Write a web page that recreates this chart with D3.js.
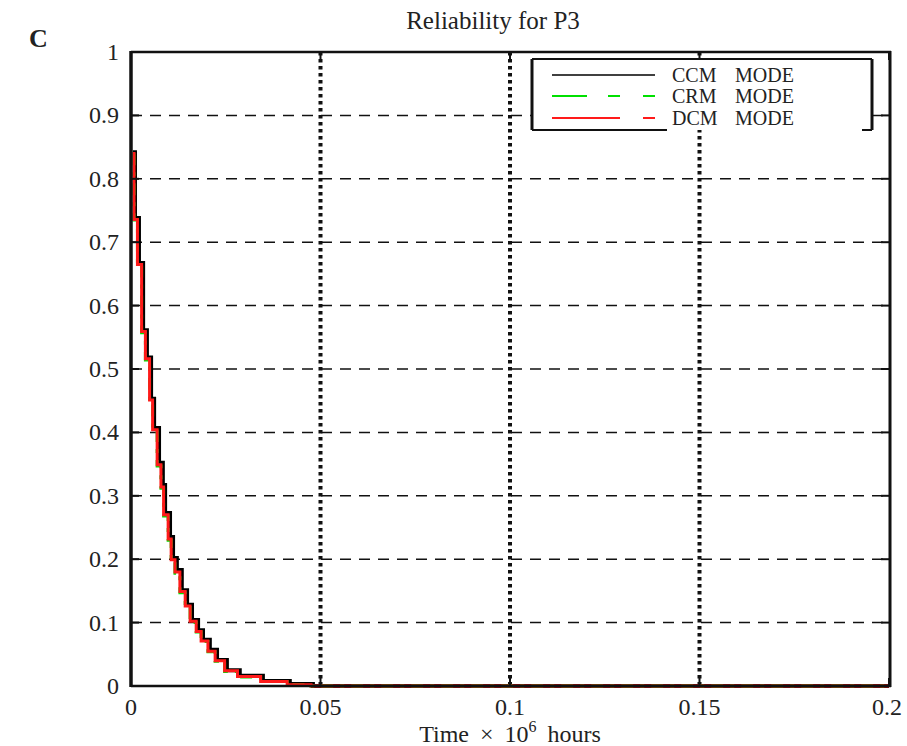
<!DOCTYPE html>
<html>
<head>
<meta charset="utf-8">
<script src="https://cdn.jsdelivr.net/npm/d3@7/dist/d3.min.js"></script>
<style>
  html, body { margin: 0; padding: 0; background: #fff; }
  svg { display: block; }
  text { font-family: "Liberation Serif", "Times New Roman", serif; fill: #222; }
</style>
</head>
<body>
<svg id="chart" width="907" height="746"></svg>
<script>
// ---- data ----
const chartTitle = "Reliability for P3";
const panelLabel = "C";
const xTicks = [0, 0.05, 0.1, 0.15, 0.2];
const xTickLabels = ["0", "0.05", "0.1", "0.15", "0.2"];
const yTicks = [0, 0.1, 0.2, 0.3, 0.4, 0.5, 0.6, 0.7, 0.8, 0.9, 1];
const yTickLabels = ["0", "0.1", "0.2", "0.3", "0.4", "0.5", "0.6", "0.7", "0.8", "0.9", "1"];
const seriesNames = ["CCM   MODE", "CRM   MODE", "DCM   MODE"];

// CCM (black) reliability steps
const ccmTime = [0.0005, 0.00105, 0.0021, 0.0032, 0.0042, 0.0053, 0.0061, 0.0074, 0.0084, 0.0090, 0.0103, 0.0111, 0.0121, 0.0134, 0.0148, 0.0161, 0.0177, 0.0190, 0.0208, 0.0227, 0.0253, 0.0287, 0.0348, 0.0419, 0.0480, 0.2];
const ccmRel  = [0.842, 0.738, 0.667, 0.561, 0.518, 0.453, 0.407, 0.352, 0.317, 0.273, 0.235, 0.202, 0.183, 0.151, 0.128, 0.104, 0.088, 0.073, 0.057, 0.041, 0.025, 0.016, 0.008, 0.003, 0.000, 0.000];
// CRM (green dashed)
const crmTime = [0.0004, 0.0008, 0.0017, 0.0028, 0.0038, 0.0049, 0.0057, 0.0069, 0.0079, 0.0086, 0.0098, 0.0106, 0.0116, 0.0129, 0.0143, 0.0156, 0.0172, 0.0185, 0.0203, 0.0222, 0.0247, 0.0281, 0.0342, 0.0412, 0.0475, 0.2];
const crmRel  = [0.838, 0.735, 0.664, 0.557, 0.514, 0.449, 0.402, 0.347, 0.312, 0.268, 0.230, 0.197, 0.178, 0.147, 0.124, 0.100, 0.085, 0.070, 0.054, 0.039, 0.023, 0.014, 0.007, 0.002, 0.000, 0.000];
// DCM (red)
const dcmTime = [0.0004, 0.0008, 0.0017, 0.0028, 0.0038, 0.0049, 0.0057, 0.0069, 0.0079, 0.0086, 0.0098, 0.0106, 0.0116, 0.0129, 0.0143, 0.0156, 0.0172, 0.0185, 0.0203, 0.0222, 0.0247, 0.0281, 0.0342, 0.0412, 0.0475, 0.2];
const dcmRel  = [0.840, 0.736, 0.665, 0.559, 0.516, 0.451, 0.404, 0.349, 0.314, 0.270, 0.232, 0.199, 0.180, 0.149, 0.126, 0.102, 0.086, 0.071, 0.055, 0.040, 0.024, 0.015, 0.007, 0.002, 0.000, 0.000];

// ---- layout ----
const L = 131, R = 889, T = 52, B = 686;
const svg = d3.select("#chart");
const x = d3.scaleLinear().domain([0, 0.2]).range([L, R]);
const y = d3.scaleLinear().domain([0, 1]).range([B, T]);

// horizontal dashed grid
svg.append("g").selectAll("line")
  .data(yTicks.filter(v => v > 0 && v < 1)).join("line")
  .attr("x1", L).attr("x2", R)
  .attr("y1", d => y(d)).attr("y2", d => y(d))
  .attr("stroke", "#111").attr("stroke-width", 1.5)
  .attr("stroke-dasharray", "11,8");

// vertical dotted grid
svg.append("g").selectAll("line")
  .data(xTicks.filter(v => v > 0 && v < 0.2)).join("line")
  .attr("x1", d => x(d)).attr("x2", d => x(d))
  .attr("y1", T).attr("y2", B)
  .attr("stroke", "#111").attr("stroke-width", 4)
  .attr("stroke-dasharray", "3.5,3.5");

// curves
const mk = (ts, rs) => ts.map((t, i) => [t, rs[i]]);
const line = d3.line().x(d => x(d[0])).y(d => y(d[1])).curve(d3.curveStepAfter);
svg.append("path").datum(mk(ccmTime, ccmRel)).attr("d", line)
  .attr("fill", "none").attr("stroke", "#000").attr("stroke-width", 4);
svg.append("path").datum(mk(crmTime, crmRel)).attr("d", line)
  .attr("fill", "none").attr("stroke", "#00e000").attr("stroke-width", 3)
  .attr("stroke-dasharray", "12,7,4,7");
svg.append("path").datum(mk(dcmTime, dcmRel)).attr("d", line)
  .attr("fill", "none").attr("stroke", "#ff1a1a").attr("stroke-width", 3);

// axes box
svg.append("line").attr("x1", L).attr("x2", L).attr("y1", T - 1).attr("y2", B + 1)
  .attr("stroke", "#111").attr("stroke-width", 3.5);
svg.append("line").attr("x1", R + 1).attr("x2", R + 1).attr("y1", T - 1).attr("y2", B + 1)
  .attr("stroke", "#111").attr("stroke-width", 3);
svg.append("line").attr("x1", L).attr("x2", R + 2).attr("y1", T).attr("y2", T)
  .attr("stroke", "#111").attr("stroke-width", 2.5);
svg.append("line").attr("x1", L).attr("x2", R + 2).attr("y1", B).attr("y2", B)
  .attr("stroke", "#111").attr("stroke-width", 2.5);

// ticks
const tk = svg.append("g").attr("stroke", "#111").attr("stroke-width", 2);
yTicks.forEach(v => {
  tk.append("line").attr("x1", L).attr("x2", L + 8).attr("y1", y(v)).attr("y2", y(v));
  tk.append("line").attr("x1", R - 8).attr("x2", R).attr("y1", y(v)).attr("y2", y(v));
});
xTicks.forEach(v => {
  tk.append("line").attr("x1", x(v)).attr("x2", x(v)).attr("y1", T).attr("y2", T + 8);
  tk.append("line").attr("x1", x(v)).attr("x2", x(v)).attr("y1", B - 8).attr("y2", B);
});

// tick labels
svg.append("g").selectAll("text").data(yTicks).join("text")
  .attr("x", 119).attr("y", d => y(d) + 8)
  .attr("text-anchor", "end").attr("font-size", 24)
  .text((d, i) => yTickLabels[i]);
svg.append("g").selectAll("text").data(xTicks).join("text")
  .attr("x", (d, i) => i === xTicks.length - 1 ? x(d) - 2 : x(d)).attr("y", 715)
  .attr("text-anchor", "middle").attr("font-size", 24)
  .text((d, i) => xTickLabels[i]);

// axis label
const xl = svg.append("text").attr("x", 510).attr("y", 742)
  .attr("text-anchor", "middle").attr("font-size", 24).attr("word-spacing", 5);
xl.append("tspan").text("Time \u00d7 10");
xl.append("tspan").attr("dy", -10).attr("font-size", 16).text("6");
xl.append("tspan").attr("dy", 10).text(" hours");

// title & panel label
svg.append("text").attr("x", 493).attr("y", 29).attr("text-anchor", "middle")
  .attr("font-size", 25).text(chartTitle);
svg.append("text").attr("x", 29).attr("y", 47).attr("font-size", 26)
  .attr("font-weight", "bold").text(panelLabel);

// legend
const lg = svg.append("g");
const lx0 = 532, lx1 = 872, ly0 = 59, ly1 = 130;
lg.append("rect").attr("x", lx0).attr("y", ly0).attr("width", lx1 - lx0).attr("height", ly1 - ly0)
  .attr("fill", "#fff");
lg.append("line").attr("x1", lx0).attr("x2", lx1).attr("y1", ly0).attr("y2", ly0)
  .attr("stroke", "#111").attr("stroke-width", 2);
lg.append("line").attr("x1", lx0).attr("x2", lx0).attr("y1", ly0).attr("y2", ly1)
  .attr("stroke", "#111").attr("stroke-width", 3);
lg.append("line").attr("x1", lx1).attr("x2", lx1).attr("y1", ly0).attr("y2", ly1)
  .attr("stroke", "#111").attr("stroke-width", 3);
lg.append("line").attr("x1", lx0).attr("x2", 667).attr("y1", ly1).attr("y2", ly1)
  .attr("stroke", "#111").attr("stroke-width", 2);
lg.append("line").attr("x1", 862).attr("x2", lx1).attr("y1", ly1).attr("y2", ly1)
  .attr("stroke", "#111").attr("stroke-width", 2);

const legColors = ["#000", "#00e000", "#ff1a1a"];
const legDash = [null, "35,21,12,23,12", "68,23,12"];
const legY = [75, 96, 118];
seriesNames.forEach((name, i) => {
  const ln = lg.append("line").attr("x1", 552).attr("x2", 655)
    .attr("y1", legY[i]).attr("y2", legY[i])
    .attr("stroke", legColors[i]).attr("stroke-width", i === 0 ? 1.5 : 1.8);
  if (legDash[i]) ln.attr("stroke-dasharray", legDash[i]);
  const parts = name.split(/\s+/);
  lg.append("text").attr("x", 672).attr("y", legY[i] + 7).attr("font-size", 20).text(parts[0]);
  lg.append("text").attr("x", 735).attr("y", legY[i] + 7).attr("font-size", 20).text(parts[1]);
});
</script>
</body>
</html>
